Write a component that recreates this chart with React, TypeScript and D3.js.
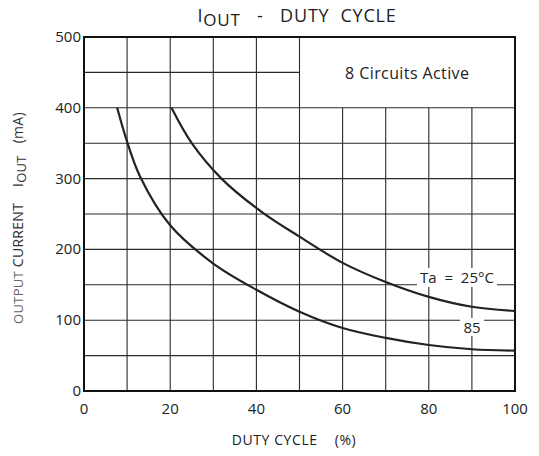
import React from 'react';
import * as d3 from 'd3';

// values
const duty25 = [20.3, 25, 31.9, 41.2, 50, 60, 70, 80, 90, 100];
const iout25 = [400, 350, 300, 253, 218, 181, 154, 133, 119, 113];
const duty85 = [7.7, 9.9, 13, 20, 30, 40, 50, 60, 70, 80, 90, 100];
const iout85 = [400, 354, 303, 234, 180, 143, 112, 89, 75, 65, 59, 57];
const xTicks = [0, 20, 40, 60, 80, 100];
const yTicks = [0, 100, 200, 300, 400, 500];

const W = 539;
const H = 456;
const m = { left: 84, right: 24, top: 37, bottom: 65 };
const font = '"Open Sans", "DejaVu Sans", sans-serif';

const App = () => {
    const x = d3.scaleLinear().domain([0, 100]).range([m.left, W - m.right]);
    const y = d3.scaleLinear().domain([0, 500]).range([H - m.bottom, m.top]);

    const line = d3
        .line<[number, number]>()
        .x((d) => x(d[0]))
        .y((d) => y(d[1]))
        .curve(d3.curveCatmullRom.alpha(0.5));

    const pts25 = duty25.map((d, i) => [d, iout25[i]] as [number, number]);
    const pts85 = duty85.map((d, i) => [d, iout85[i]] as [number, number]);

    const vGrid = d3.range(10, 100, 10);
    const hGrid = d3.range(50, 500, 50);

    return (
        <svg width={W} height={H} style={{ position: 'absolute', left: 0, top: 0, background: '#fff' }}>
            {/* grid; the box top-right (50-100 %, 400-500 mA) is left empty */}
            <g stroke="#2a2a2a" strokeWidth={1.1}>
                {vGrid.map((v) => (
                    <line key={'v' + v} x1={x(v)} x2={x(v)} y1={y(0)} y2={v > 50 ? y(400) : y(500)} />
                ))}
                {hGrid.map((h) => (
                    <line key={'h' + h} x1={x(0)} x2={h > 400 ? x(50) : x(100)} y1={y(h)} y2={y(h)} />
                ))}
            </g>
            <rect x={x(0)} y={y(500)} width={x(100) - x(0)} height={y(0) - y(500)} fill="none" stroke="#111" strokeWidth={2} />

            <text x={x(75)} y={y(450) + 7} textAnchor="middle" fontFamily={font} fontSize={16} letterSpacing={0.4} fill="#222">
                8 Circuits Active
            </text>

            {/* curves */}
            <path d={line(pts25) || ''} fill="none" stroke="#222" strokeWidth={2.2} />
            <path d={line(pts85) || ''} fill="none" stroke="#222" strokeWidth={2.2} />

            {/* curve labels */}
            <rect x={417} y={268} width={80} height={19} fill="#fff" />
            <text x={457} y={283} textAnchor="middle" fontFamily={font} fontSize={15} fill="#222" style={{ whiteSpace: 'pre' }}>
                {'Ta  =  25°C'}
            </text>
            <rect x={460} y={318} width={24} height={18} fill="#fff" />
            <text x={472} y={333} textAnchor="middle" fontFamily={font} fontSize={15} fill="#222">
                85
            </text>

            {/* ticks */}
            {xTicks.map((t) => (
                <text key={'xt' + t} x={x(t)} y={y(0) + 23} textAnchor="middle" fontFamily={font} fontSize={15} fill="#222">
                    {t}
                </text>
            ))}
            {yTicks.map((t) => (
                <text key={'yt' + t} x={x(0) - 3} y={y(t) + 5} textAnchor="end" fontFamily={font} fontSize={15} fill="#222">
                    {t}
                </text>
            ))}

            {/* titles */}
            <text x={297} y={22} textAnchor="middle" fontFamily={font} fontSize={18} letterSpacing={0.8} fill="#222" style={{ whiteSpace: 'pre' }}>
                <tspan>I</tspan>
                <tspan fontSize={17} dy={4}>OUT</tspan>
                <tspan dy={-4}>{'   -   DUTY  CYCLE'}</tspan>
            </text>
            <text x={294} y={445} textAnchor="middle" fontFamily={font} fontSize={14} letterSpacing={0.6} fill="#222" style={{ whiteSpace: 'pre' }}>
                {'DUTY CYCLE    (%)'}
            </text>
            <text
                transform={`translate(23, ${(y(0) + y(500)) / 2 + 4}) rotate(-90)`}
                textAnchor="middle"
                fontFamily={font}
                fontSize={14}
                letterSpacing={0.3}
                fill="#333"
                style={{ whiteSpace: 'pre' }}
            >
                <tspan fontSize={13} fill="#666">OUTPUT </tspan>
                <tspan>{'CURRENT    '}</tspan>
                <tspan>I</tspan>
                <tspan fontSize={13} dy={3}>OUT</tspan>
                <tspan dy={-3}>{'   (mA)'}</tspan>
            </text>
        </svg>
    );
};

export default App;
